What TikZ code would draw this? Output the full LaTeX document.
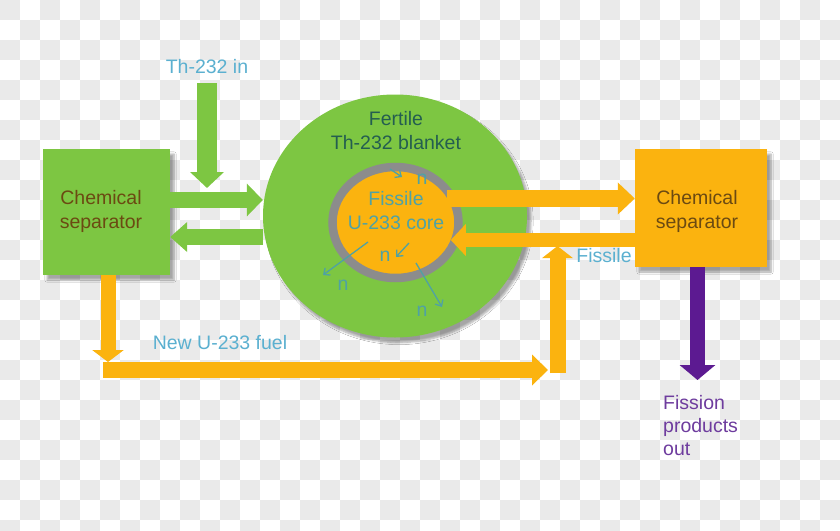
\documentclass[tikz,border=0pt]{standalone}
\usepackage{fontspec}
\setmainfont{Liberation Sans}
\usetikzlibrary{arrows.meta,shapes.geometric,calc,shadows.blur}
\definecolor{grn}{HTML}{7DC642}
\definecolor{org}{HTML}{FBB30F}
\definecolor{ring}{HTML}{8C8C8C}
\definecolor{brown}{HTML}{6B4A12}
\definecolor{dkgrn}{HTML}{245E50}
\definecolor{teal}{HTML}{4FA2A4}
\definecolor{ltblue}{HTML}{5BB0D0}
\definecolor{purp}{HTML}{5C1A91}
\definecolor{purptxt}{HTML}{6E3C9E}
\definecolor{chk}{HTML}{EAEAEA}
\begin{document}
\begin{tikzpicture}[x=1pt,y=-1pt,
  txt/.style={font=\fontsize{19.5}{24}\selectfont, inner sep=0pt, align=center},
  shad/.style={blur shadow={shadow xshift=4pt,shadow yshift=-5pt,shadow blur steps=6,shadow opacity=35}},
  nlab/.style={txt, text=teal},
  narr/.style={draw=teal, line width=1.3pt, -{Straight Barb[length=5pt,width=9pt]}}
]
\useasboundingbox (0,0) rectangle (840,530);
\fill[white] (0,0) rectangle (840,530);
% checkerboard background
\foreach \i in {0,...,41}{
  \foreach \j in {0,2,...,26}{
    \pgfmathtruncatemacro\jj{\j+mod(\i,2)}
    \fill[chk] ({\i*20},{\jj*20}) rectangle +(20,20);
  }
}
% boxes
\node[shad, fill=grn, minimum width=127pt, minimum height=126pt, inner sep=0pt] (lsep) at (106.5,212) {};
\node[shad, fill=org, minimum width=132pt, minimum height=118pt, inner sep=0pt] (rsep) at (701,208) {};
\node[txt, text=brown] (ltext) at (101,211) {Chemical\\separator};
\node[txt, text=brown] (rtext) at (697,211) {Chemical\\separator};
% blanket
\node[shad, ellipse, fill=grn, minimum width=264pt, minimum height=243pt, inner sep=0pt] (blanket) at (395,216) {};
\node[txt, text=dkgrn] (btext) at (396,131) {Fertile\\Th-232 blanket};
% core
\node[ellipse, fill=org, draw=ring, line width=8.5pt, minimum width=126pt, minimum height=111pt, inner sep=0pt] (core) at (395.5,222.5) {};
% green arrows
\draw[grn, line width=16pt, -{Triangle[length=16pt,width=32pt]}] (lsep.east |- 0,200) -- (blanket.west |- 0,200);
\draw[grn, line width=16pt, -{Triangle[length=17pt,width=29pt]}] (blanket.west |- 0,237) -- (lsep.east |- 0,237);
\node[txt, text=ltblue] (thin) at (207,67) {Th-232 in};
\coordinate (thtip) at (207,188);
\draw[grn, line width=20pt, -{Triangle[length=16pt,width=33pt]}] (thin.south |- 0,83) -- (thtip);
% orange arrows
\draw[org, line width=17pt, -{Triangle[length=17pt,width=31pt]}] ($(core.east)+(-16,-24)$) -- (rsep.west |- 0,198.5);
\draw[org, line width=14pt, -{Triangle[length=15pt,width=31pt]}] (rsep.west |- 0,240) -- ($(core.east)+(-12,17.5)$);
\coordinate (ld) at (108,362);
\draw[org, line width=15pt, -{Triangle[length=12pt,width=31pt]}] ($(lsep.south)+(1.5,0)$) -- (ld);
\coordinate (bl) at (103,370);
\coordinate (br) at (548,370);
\draw[org, line width=16pt, -{Triangle[length=16pt,width=30pt]}] (bl) -- (br);
\coordinate (ub) at (557.5,373);
\coordinate (ut) at (557.5,246);
\draw[org, line width=16pt, -{Triangle[length=12pt,width=30pt]}] (ub) -- (ut);
% purple
\coordinate (ptip) at (697.5,380);
\draw[purp, line width=15pt, -{Triangle[length=15pt,width=35pt]}] ($(rsep.south)+(-3.5,0)$) -- (ptip);
\node[txt, text=purptxt, align=left, anchor=north west, font=\fontsize{19.5}{23}\selectfont] (fpo) at (663,395) {Fission\\products\\out};
% labels
\node[txt, text=teal] (ctext) at (396,211) {Fissile\\U-233 core};
\node[txt, text=ltblue] (fuel) at (220,343) {New U-233 fuel};
\node[txt, text=ltblue] (fiss) at (604,256) {Fissile};
% neutrons
\coordinate (a1s) at (390,169); \coordinate (a1e) at (402,177);
\coordinate (a2s) at (368,242); \coordinate (a2e) at (323,275);
\coordinate (a3s) at (409,243); \coordinate (a3e) at (396,257);
\coordinate (a4s) at (416,263); \coordinate (a4e) at (442,307);
\draw[narr] (a1s) -- (a1e);
\draw[narr] (a2s) -- (a2e);
\draw[narr] (a3s) -- (a3e);
\draw[narr] (a4s) -- (a4e);
\node[nlab] (n1) at (422,179) {n};
\node[nlab] (n2) at (343,285) {n};
\node[nlab] (n3) at (385,256) {n};
\node[nlab] (n4) at (422,311) {n};
\end{tikzpicture}
\end{document}
